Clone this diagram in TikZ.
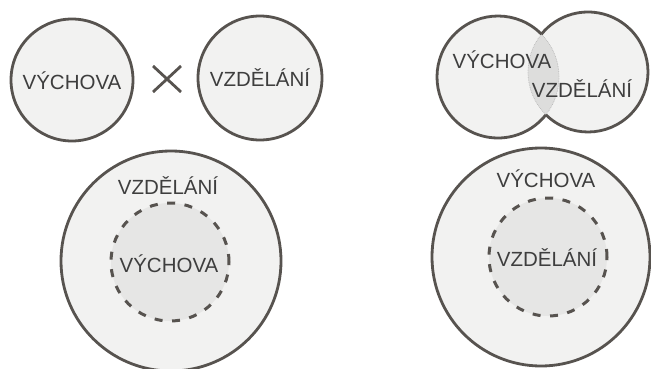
\documentclass[tikz,border=0pt]{standalone}
\usepackage{fontspec}
\setmainfont{Liberation Sans}
\usetikzlibrary{positioning}
\definecolor{rim}{HTML}{57534F}
\definecolor{paper}{HTML}{F2F2F1}
\definecolor{core}{HTML}{E6E6E5}
\definecolor{lensgray}{HTML}{DDDDDC}
\definecolor{ink}{HTML}{3E3E3E}

\begin{document}
\begin{tikzpicture}[x=1pt,y=-1pt,
    ring/.style={circle,draw=rim,line width=2.8pt,fill=paper,inner sep=0pt},
    dashring/.style={circle,draw=rim,line width=3pt,fill=core,inner sep=0pt,dash pattern=on 8pt off 9.5pt},
    word/.style={text=ink,font=\fontsize{20.5}{24}\selectfont,inner sep=0pt,anchor=base}]
    \useasboundingbox (0,0) rectangle (651,369);

    % apart
    \node[ring,minimum size=122pt] (vychA) at (72,80) {};
    \node[ring,minimum size=124pt] (vzdA) at (260,78) {};
    \node[word] (tvychA) at (72,89) {VÝCHOVA};
    \node[word] (tvzdA) at (260,87) {VZDĚLÁNÍ};
    \draw[rim,line width=2.8pt] (153,66) -- (181,92) (153,92) -- (181,66);

    % overlap
    \coordinate (a) at (498,77);
    \coordinate (b) at (588,72);
    \fill[paper] (a) circle[radius=61pt] (b) circle[radius=60pt];
    \begin{scope}
        \clip (a) circle[radius=61pt];
        \fill[lensgray] (b) circle[radius=60pt];
    \end{scope}
    \draw[gray!55,line width=0.7pt,densely dotted]
        (a) ++(-38.3:61pt) arc[start angle=-38.3,end angle=44.6,radius=61pt]
        (b) ++(141:60pt) arc[start angle=141,end angle=225.5,radius=60pt];
    \draw[rim,line width=2.8pt]
        (a) ++(44.6:61pt) arc[start angle=44.6,end angle=321.7,radius=61pt]
        (b) ++(-134.5:60pt) arc[start angle=-134.5,end angle=141,radius=60pt];
    \node[word] (tvychB) at (502,69) {VÝCHOVA};
    \node[word] (tvzdB) at (582,97) {VZDĚLÁNÍ};

    % education holds upbringing
    \node[ring,minimum size=220pt] (vzdC) at (171,261) {};
    \node[dashring,minimum size=118pt] (vychC) at (170,262) {};
    \node[word] (tvzdC) at (168,194) {VZDĚLÁNÍ};
    \node[word] (tvychC) at (169,272) {VÝCHOVA};

    % upbringing holds education
    \node[ring,minimum size=218pt] (vychD) at (541,257) {};
    \node[dashring,minimum size=118pt] (vzdD) at (548,257) {};
    \node[word] (tvychD) at (546,187) {VÝCHOVA};
    \node[word] (tvzdD) at (547,266) {VZDĚLÁNÍ};
\end{tikzpicture}
\end{document}
